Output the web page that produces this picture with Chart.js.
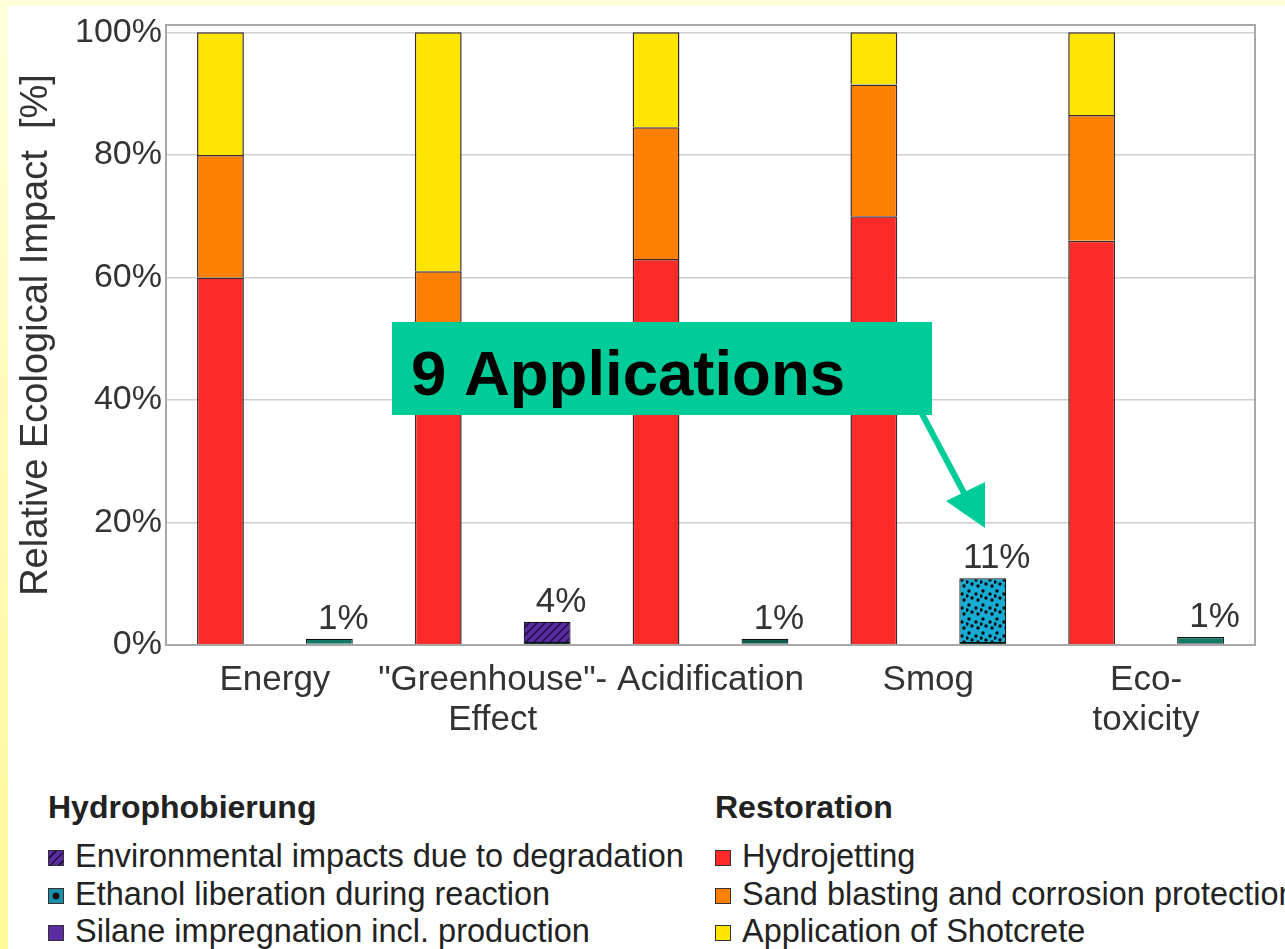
<!DOCTYPE html>
<html>
<head>
<meta charset="utf-8">
<script src="https://cdn.jsdelivr.net/npm/chart.js@4.4.1/dist/chart.umd.min.js"></script>
<style>
  html, body { margin:0; padding:0; background:#ffffff; }
  body { width:1285px; height:949px; position:relative; overflow:hidden; font-family:"Liberation Sans", Arial, sans-serif; }
  #topstrip { position:absolute; left:0; top:0; width:1285px; height:6px; background:#fffcd9; }
  #leftstrip { position:absolute; left:0; top:0; width:8px; height:949px; background:linear-gradient(#ffffdc, #fff9a8 70%, #fff799); }
  #wrap { position:absolute; left:0; top:0; width:1285px; height:760px; }
  .lg { position:absolute; color:#222; white-space:nowrap; }
  .hd { font-weight:bold; font-size:32px; }
  .it { font-size:32.5px; line-height:37.5px; }
  .sw { display:inline-block; width:16px; height:16px; border:1.5px solid #333; margin-right:11px; vertical-align:1px; box-sizing:border-box; }
</style>
</head>
<body>
<div id="wrap"><canvas id="c" width="1285" height="760"></canvas></div>
<div id="topstrip"></div>
<div id="leftstrip"></div>

<div class="lg hd" style="left:48px; top:789px;">Hydrophobierung</div>
<div class="lg it" style="left:48px; top:838px;">
  <div><span class="sw" style="background:repeating-linear-gradient(135deg,#5a2ca0 0 4px,#22104a 4px 6px);"></span>Environmental impacts due to degradation</div>
  <div><span class="sw" style="background:radial-gradient(#111 30%, #1b8fa8 40%);"></span>Ethanol liberation during reaction</div>
  <div><span class="sw" style="background:#5a2ca0;"></span>Silane impregnation incl. production</div>
</div>
<div class="lg hd" style="left:715px; top:789px;">Restoration</div>
<div class="lg it" style="left:715px; top:838px;">
  <div><span class="sw" style="background:#fc2a28;"></span>Hydrojetting</div>
  <div><span class="sw" style="background:#ff8000;"></span>Sand blasting and corrosion protection</div>
  <div><span class="sw" style="background:#ffe600;"></span>Application of Shotcrete</div>
</div>

<script>
// ---- data ----
const categories = ['Energy', ['"Greenhouse"-', 'Effect'], 'Acidification', 'Smog', ['Eco-', 'toxicity']];
const hydrojetting   = [60, 50, 63, 70, 66];
const sandBlasting   = [20, 11, 21.5, 21.5, 20.5];
const shotcrete      = [20, 39, 15.5, 8.5, 13.5];
const silane         = [0.2, 0.5, 0.2, 0.5, 0.3];
const ethanol        = [0.8, 0, 0.8, 10.4, 1.0];
const degradation    = [0, 3.3, 0, 0, 0];
const hydLabels      = ['1%', '4%', '1%', '11%', '1%'];
const yTicks         = [0, 20, 40, 60, 80, 100];
const annotationText = '9 Applications';

// ---- patterns ----
function hatchPattern() {
  const p = document.createElement('canvas'); p.width = 8; p.height = 8;
  const g = p.getContext('2d');
  g.fillStyle = '#5a2ca0'; g.fillRect(0,0,8,8);
  g.strokeStyle = '#24104e'; g.lineWidth = 1.6;
  g.beginPath(); g.moveTo(-2,10); g.lineTo(10,-2); g.moveTo(-6,6); g.lineTo(6,-6); g.moveTo(2,14); g.lineTo(14,2); g.stroke();
  return g.createPattern(p, 'repeat');
}
function dotPattern() {
  const p = document.createElement('canvas'); p.width = 14; p.height = 14;
  const g = p.getContext('2d');
  g.fillStyle = '#18acd4'; g.fillRect(0,0,14,14);
  g.fillStyle = '#0a0a0a';
  [[3,3],[10,6],[6,10],[12,12],[1,8]].forEach(([x,y]) => { g.beginPath(); g.arc(x,y,1.7,0,Math.PI*2); g.fill(); });
  return g.createPattern(p, 'repeat');
}
const dots = dotPattern();
const hatch = hatchPattern();

const FONT = '"Liberation Sans", Arial, sans-serif';

const framePlugin = {
  id: 'frame',
  afterDraw(chart) {
    const {ctx, chartArea: a} = chart;
    ctx.save();
    ctx.strokeStyle = '#a8a8a8'; ctx.lineWidth = 2;
    ctx.strokeRect(a.left, a.top, a.right - a.left, a.bottom - a.top);
    ctx.restore();
  }
};

const labelPlugin = {
  id: 'hydLabels',
  afterDatasetsDraw(chart) {
    const {ctx} = chart;
    const y = chart.scales.y;
    const metaTop = chart.getDatasetMeta(5);
    ctx.save();
    ctx.font = '35px ' + FONT; ctx.fillStyle = '#333'; ctx.textAlign = 'center'; ctx.textBaseline = 'alphabetic';
    hydLabels.forEach((t, i) => {
      const total = silane[i] + ethanol[i] + degradation[i];
      const bar = metaTop.data[i];
      ctx.fillText(t, bar.x + 14, y.getPixelForValue(total) - 10);
    });
    ctx.restore();
  }
};

const annotationPlugin = {
  id: 'callout',
  afterDraw(chart) {
    const {ctx} = chart;
    ctx.save();
    ctx.fillStyle = '#00cc99';
    ctx.fillRect(392, 322, 540, 93);
    ctx.strokeStyle = '#00cc99'; ctx.lineWidth = 6;
    ctx.beginPath(); ctx.moveTo(921, 412); ctx.lineTo(964, 493); ctx.stroke();
    ctx.beginPath(); ctx.moveTo(985, 528); ctx.lineTo(946, 501); ctx.lineTo(985, 482); ctx.closePath(); ctx.fill();
    ctx.fillStyle = '#000';
    ctx.font = 'bold 63.5px ' + FONT;
    ctx.textBaseline = 'alphabetic'; ctx.textAlign = 'left';
    ctx.fillText(annotationText, 411, 395);
    ctx.restore();
  }
};

const border = '#3a2a2a';
new Chart(document.getElementById('c'), {
  type: 'bar',
  data: {
    labels: categories,
    datasets: [
      { label: 'Hydrojetting', data: hydrojetting, stack: 'rest', backgroundColor: '#fc2a28', borderColor: border, borderWidth: 1.5 },
      { label: 'Sand blasting and corrosion protection', data: sandBlasting, stack: 'rest', backgroundColor: '#ff8000', borderColor: border, borderWidth: 1.5 },
      { label: 'Application of Shotcrete', data: shotcrete, stack: 'rest', backgroundColor: '#ffe600', borderColor: border, borderWidth: 1.5 },
      { label: 'Silane impregnation incl. production', data: silane, stack: 'hyd', backgroundColor: '#0d3a33', borderColor: '#111', borderWidth: 1 },
      { label: 'Ethanol liberation during reaction', data: ethanol, stack: 'hyd', backgroundColor: ['#137a68','#137a68','#0f5e50', dots, '#137a68'], borderColor: '#111', borderWidth: 1.2 },
      { label: 'Environmental impacts due to degradation', data: degradation, stack: 'hyd', backgroundColor: hatch, borderColor: '#111', borderWidth: 1.2 }
    ]
  },
  options: {
    responsive: false,
    animation: false,
    events: [],
    layout: { padding: { top: 25, right: 30, left: 14, bottom: 0 } },
    categoryPercentage: 1.0,
    barPercentage: 0.43,
    plugins: { legend: { display: false }, tooltip: { enabled: false } },
    scales: {
      x: {
        stacked: true,
        grid: { display: false, drawTicks: false },
        border: { color: '#a8a8a8', width: 2 },
        ticks: { color: '#333', font: { family: FONT, size: 35, lineHeight: 1.15 }, padding: 15, maxRotation: 0, autoSkip: false },
        afterFit(s) { s.height = 115; }
      },
      y: {
        stacked: true,
        min: 0, max: 101.2,
        afterBuildTicks(s) { s.ticks = yTicks.map(v => ({ value: v })); },
        grid: { color: '#cfcfcf', lineWidth: 1.5, drawTicks: false },
        border: { color: '#a8a8a8', width: 2 },
        ticks: { color: '#333', font: { family: FONT, size: 34 }, padding: 4, callback: v => v + '%' },
        title: { display: true, text: 'Relative Ecological Impact  [%]', color: '#333', font: { family: FONT, size: 38 }, padding: { top: 0, bottom: 0 } },
        afterFit(s) { s.width = 152; }
      }
    }
  },
  plugins: [framePlugin, labelPlugin, annotationPlugin]
});
</script>
</body>
</html>
